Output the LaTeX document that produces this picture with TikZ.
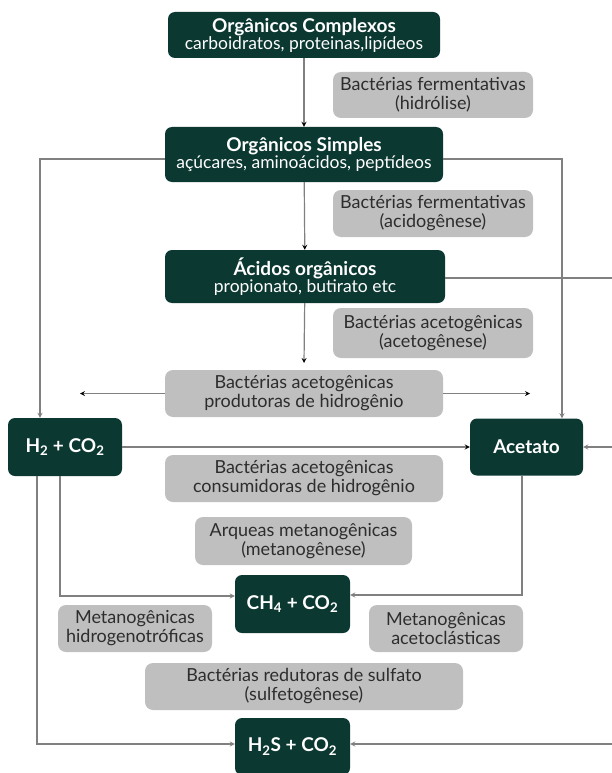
\documentclass[tikz,border=0pt]{standalone}
\usepackage{fontspec}
\setmainfont{Lato}
\usetikzlibrary{arrows}
\usetikzlibrary{positioning}
\definecolor{darkgreen}{RGB}{12,56,50}
\definecolor{boxgray}{RGB}{191,191,191}
\definecolor{linegray}{RGB}{128,128,128}
\definecolor{textgray}{RGB}{45,45,45}
\newcommand{\ttl}[1]{{\bfseries\fontsize{19}{20}\selectfont #1}}

\begin{document}
\begin{tikzpicture}[x=1pt,y=-1pt,
    stage/.style={fill=darkgreen, rounded corners=7pt, text=white, align=center,
                  inner sep=0pt, font=\fontsize{17.5}{17}\selectfont},
    microbe/.style={fill=boxgray, rounded corners=8pt, text=textgray, align=center,
                    inner sep=0pt, font=\fontsize{18}{19}\selectfont},
    flow/.style={draw=linegray, line width=1.2pt, -stealth}]
  \useasboundingbox (0,0) rectangle (612,773);
  % etapas
  \node[stage, minimum width=272pt, minimum height=46pt] (cmplx) at (304,35)
       {\ttl{Orgânicos Complexos}\\carboidratos, proteinas,lipídeos};
  \node[stage, minimum width=278pt, minimum height=55pt] (simpl) at (304,154.5)
       {\ttl{Orgânicos Simples}\\açúcares, aminoácidos, peptídeos};
  \node[stage, minimum width=280pt, minimum height=53pt] (acid) at (305,276.5)
       {\ttl{Ácidos orgânicos}\\propionato, butirato etc};
  \node[stage, minimum width=114pt, minimum height=58pt] (htwo) at (65,447)
       {\ttl{H\textsubscript{2} + CO\textsubscript{2}}};
  \node[stage, minimum width=113pt, minimum height=57pt] (acetato) at (526.5,447)
       {\ttl{Acetato}};
  \node[stage, minimum width=115pt, minimum height=58pt] (chf) at (292.5,604)
       {\ttl{CH\textsubscript{4} + CO\textsubscript{2}}};
  \node[stage, minimum width=115pt, minimum height=57pt] (hts) at (292.5,746.5)
       {\ttl{H\textsubscript{2}S + CO\textsubscript{2}}};
  % microrganismos
  \node[microbe, minimum width=200pt, minimum height=46pt] (hidr) at (433,95)
       {Bactérias fermentativas\\(hidrólise)};
  \node[microbe, minimum width=200pt, minimum height=47pt] (acidg) at (433,213.5)
       {Bactérias fermentativas\\(acidogênese)};
  \node[microbe, minimum width=200pt, minimum height=50pt] (acetg) at (433,333)
       {Bactérias acetogênicas\\(acetogênese)};
  \node[microbe, minimum width=278pt, minimum height=47pt] (prod) at (304,393.5)
       {Bactérias acetogênicas\\produtoras de hidrogênio};
  \node[microbe, minimum width=278pt, minimum height=47pt] (cons) at (304,478.5)
       {Bactérias acetogênicas\\consumidoras de hidrogênio};
  \node[microbe, minimum width=217pt, minimum height=48pt] (arq) at (303.5,541)
       {Arqueas metanogênicas\\(metanogênese)};
  \node[microbe, minimum width=154pt, minimum height=47pt] (hgt) at (135,628.5)
       {Metanogênicas\\hidrogenotróficas};
  \node[microbe, minimum width=154pt, minimum height=47pt] (acl) at (446,628.5)
       {Metanogênicas\\acetoclásticas};
  \node[microbe, minimum width=318pt, minimum height=47pt] (sulf) at (304,686.5)
       {Bactérias redutoras de sulfato\\(sulfetogênese)};
  % pontos de dobra
  \coordinate (acidout) at (304,363);
  \coordinate (prodl) at (80,393.5);
  \coordinate (prodr) at (530,393.5);
  \coordinate (hcol) at (40,159);
  \coordinate (acol) at (562,159);
  \coordinate (rtop) at (614,278);
  \coordinate (rmid) at (614,447);
  \coordinate (rbot) at (614,744);
  \coordinate (hdowna) at (37,744);
  \coordinate (hdownb) at (60,596);
  \coordinate (adown) at (522,595);
  % setas
  \path[flow]
    (cmplx) edge (simpl)
    (simpl) edge (acid)
    (acid) edge (acidout)
    (prod) edge (prodl)
    (prod) edge (prodr)
    (htwo) edge (acetato);
  \draw[flow] (simpl.west |- hcol) -- (hcol) -- (hcol |- htwo.north);
  \draw[flow] (simpl.east |- acol) -- (acol) -- (acol |- acetato.north);
  \draw[linegray, line width=1.2pt] (acid.east |- rtop) -- (rtop) -- (rbot);
  \draw[flow] (rmid) -- (acetato.east |- rmid);
  \draw[flow] (rbot) -- (hts.east |- rbot);
  \draw[flow] (htwo.south -| hdowna) -- (hdowna) -- (hts.west |- hdowna);
  \draw[flow] (htwo.south -| hdownb) -- (hdownb) -- (chf.west |- hdownb);
  \draw[flow] (acetato.south -| adown) -- (adown) -- (chf.east |- adown);
\end{tikzpicture}
\end{document}
